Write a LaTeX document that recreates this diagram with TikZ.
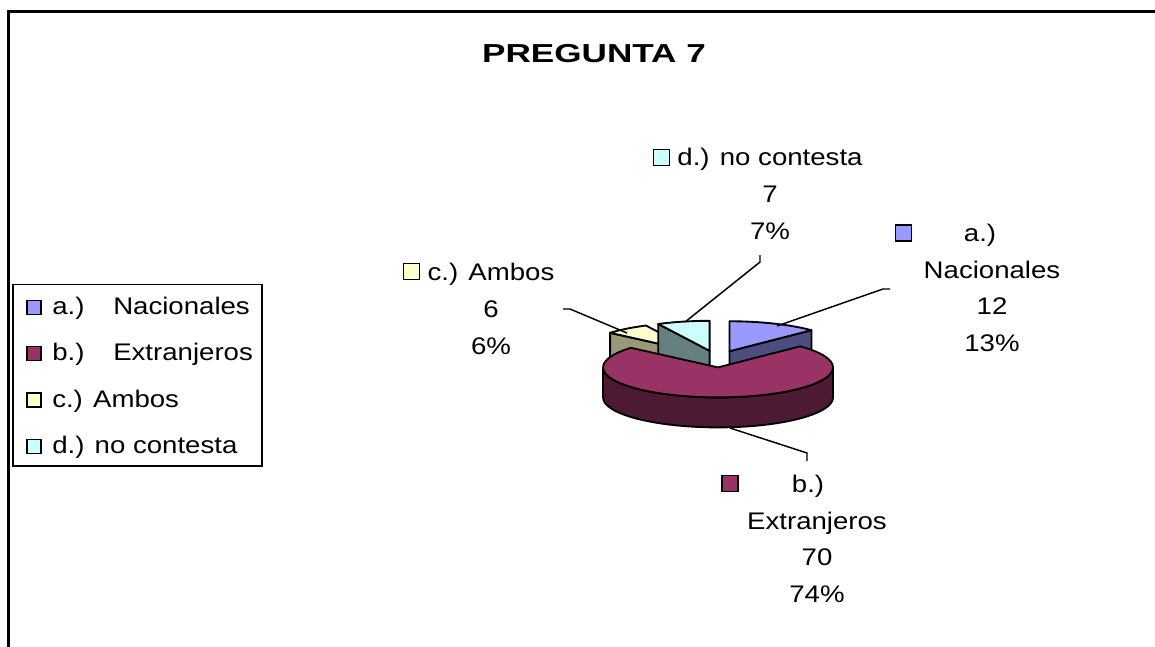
\documentclass[tikz,border=0pt]{standalone}
\usepackage{fontspec}
\setmainfont{Liberation Sans}[FakeStretch=1.15]
\newfontfamily\titlefont{Liberation Sans}[FakeStretch=1.35]
\usepackage{xcolor}
\definecolor{colA}{HTML}{9999FF}
\definecolor{sideA}{HTML}{4D4D80}
\definecolor{colB}{HTML}{993366}
\definecolor{sideB}{HTML}{4D1A33}
\definecolor{colC}{HTML}{FFFFCC}
\definecolor{sideC}{HTML}{99997A}
\definecolor{colD}{HTML}{CCFFFF}
\definecolor{sideD}{HTML}{668080}
\tikzset{
    pie/.style={draw=black, line width=1.4pt, line join=round}, % sectores
    leader/.style={draw=black, line width=1.1pt}, % lineas de etiqueta
    key/.style={draw=black, line width=1pt, minimum size=10.5pt, inner sep=0pt},
    legtext/.style={anchor=base west, inner sep=0pt, font=\fontsize{18}{22}\selectfont},
    dlabel/.style={align=center, inner sep=0pt, font=\fontsize{18}{27.5}\selectfont},
}

\begin{document}
\begin{tikzpicture}[x=0.75pt, y=-0.75pt]
    \useasboundingbox (0,0) rectangle (1155,646);
    % Marco
    \draw[line width=2.2pt] (8.5,660) -- (8.5,11.5) -- (1170,11.5);

    % Titulo
    \node[font={\titlefont\fontsize{19.5}{24}\bfseries\selectfont}, anchor=base, inner sep=0pt] (title) at (594,62) {PREGUNTA 7};

    % Leyenda
    \draw[line width=1.4pt] (13,284.5) rectangle (262,466);
    \node[key, fill=colA] (ka) at (34,307.5) {};
    \node[key, fill=colB] (kb) at (34,353.5) {};
    \node[key, fill=colC] (kc) at (34,400) {};
    \node[key, fill=colD] (kd) at (34,446.5) {};
    \node[legtext] (ta) at (52,314) {a.)};
    \node[legtext] (na) at (113,314) {Nacionales};
    \node[legtext] (tb) at (52,360) {b.)};
    \node[legtext] (nb) at (113,360) {Extranjeros};
    \node[legtext] (tc) at (52,407) {c.) Ambos};
    \node[legtext] (td) at (52,453) {d.) no contesta};

    % Sectores
    \begin{scope}[shift={(717,359)}, y=0.75pt]
        \def\rx{115}
        \def\ry{30}
        \def\hh{30}
        % c.) Ambos
        \begin{scope}[shift={(-19.76,6.63)}]
            \filldraw[pie, fill=sideC] (0,0) -- ({\rx*cos(139.27)},{\ry*sin(139.27)}) -- ++(0,-\hh) -- (0,-\hh) -- cycle;
            \filldraw[pie, fill=colC] (0,0) -- ({\rx*cos(116.53)},{\ry*sin(116.53)})
                arc[start angle=116.53, end angle=139.27, x radius=\rx, y radius=\ry] -- cycle;
        \end{scope}
        % d.) no contesta
        \begin{scope}[shift={(-7.38,8.18)}]
            \filldraw[pie, fill=sideD] (0,0) -- ({\rx*cos(116.53)},{\ry*sin(116.53)}) -- ++(0,-\hh) -- (0,-\hh) -- cycle;
            \filldraw[pie, fill=colD] (0,0) -- (0,\ry)
                arc[start angle=90, end angle=116.53, x radius=\rx, y radius=\ry] -- cycle;
        \end{scope}
        % a.) Nacionales
        \begin{scope}[shift={(12.45,7.75)}]
            \filldraw[pie, fill=sideA] (0,0) -- ({\rx*cos(44.53)},{\ry*sin(44.53)}) -- ++(0,-\hh) -- (0,-\hh) -- cycle;
            \filldraw[pie, fill=colA] (0,0) -- ({\rx*cos(44.53)},{\ry*sin(44.53)})
                arc[start angle=44.53, end angle=90, x radius=\rx, y radius=\ry] -- cycle;
        \end{scope}
        % b.) Extranjeros
        \begin{scope}[shift={(1.04,-8.40)}]
            \filldraw[pie, fill=sideB] (\rx,0) arc[start angle=0, end angle=-180, x radius=\rx, y radius=\ry]
                -- ++(0,-\hh) arc[start angle=-180, end angle=0, x radius=\rx, y radius=\ry] -- cycle;
            \filldraw[pie, fill=colB] (0,0) -- ({\rx*cos(44.53)},{\ry*sin(44.53)})
                arc[start angle=44.53, end angle=-220.73, x radius=\rx, y radius=\ry] -- cycle;
        \end{scope}
    \end{scope}

    % Etiquetas
    \node[dlabel] (la) at (992,288) {a.)\hspace*{1em}\\Nacionales\\12\\13\%};
    \node[key, fill=colA, minimum size=12pt] (sa) at (903.5,233) {};
    \node[dlabel] (lb) at (817,539) {b.)\hspace*{0.75em}\\Extranjeros\\70\\74\%};
    \node[key, fill=colB, minimum size=12pt] (sb) at (730,483.5) {};
    \node[dlabel] (lc) at (491,309) {c.) Ambos\\6\\6\%};
    \node[key, fill=colC, minimum size=12pt] (sc) at (411.5,271.5) {};
    \node[dlabel] (ld) at (770,194) {d.) no contesta\\7\\7\%};
    \node[key, fill=colD, minimum size=12pt] (sd) at (661.5,157.5) {};

    % Lineas
    \coordinate (a0) at (890,289);
    \coordinate (a1) at (883,289);
    \coordinate (a2) at (777,326);
    \coordinate (b0) at (730,428);
    \coordinate (b1) at (807,453);
    \coordinate (b2) at (807,461);
    \coordinate (c0) at (563,309);
    \coordinate (c1) at (570,309);
    \coordinate (c2) at (627,333);
    \coordinate (d0) at (760,255);
    \coordinate (d1) at (760,262);
    \coordinate (d2) at (685,322);
    \draw[leader] (a0) -- (a1) -- (a2);
    \draw[leader] (b0) -- (b1) -- (b2);
    \draw[leader] (c0) -- (c1) -- (c2);
    \draw[leader] (d0) -- (d1) -- (d2);
\end{tikzpicture}
\end{document}
